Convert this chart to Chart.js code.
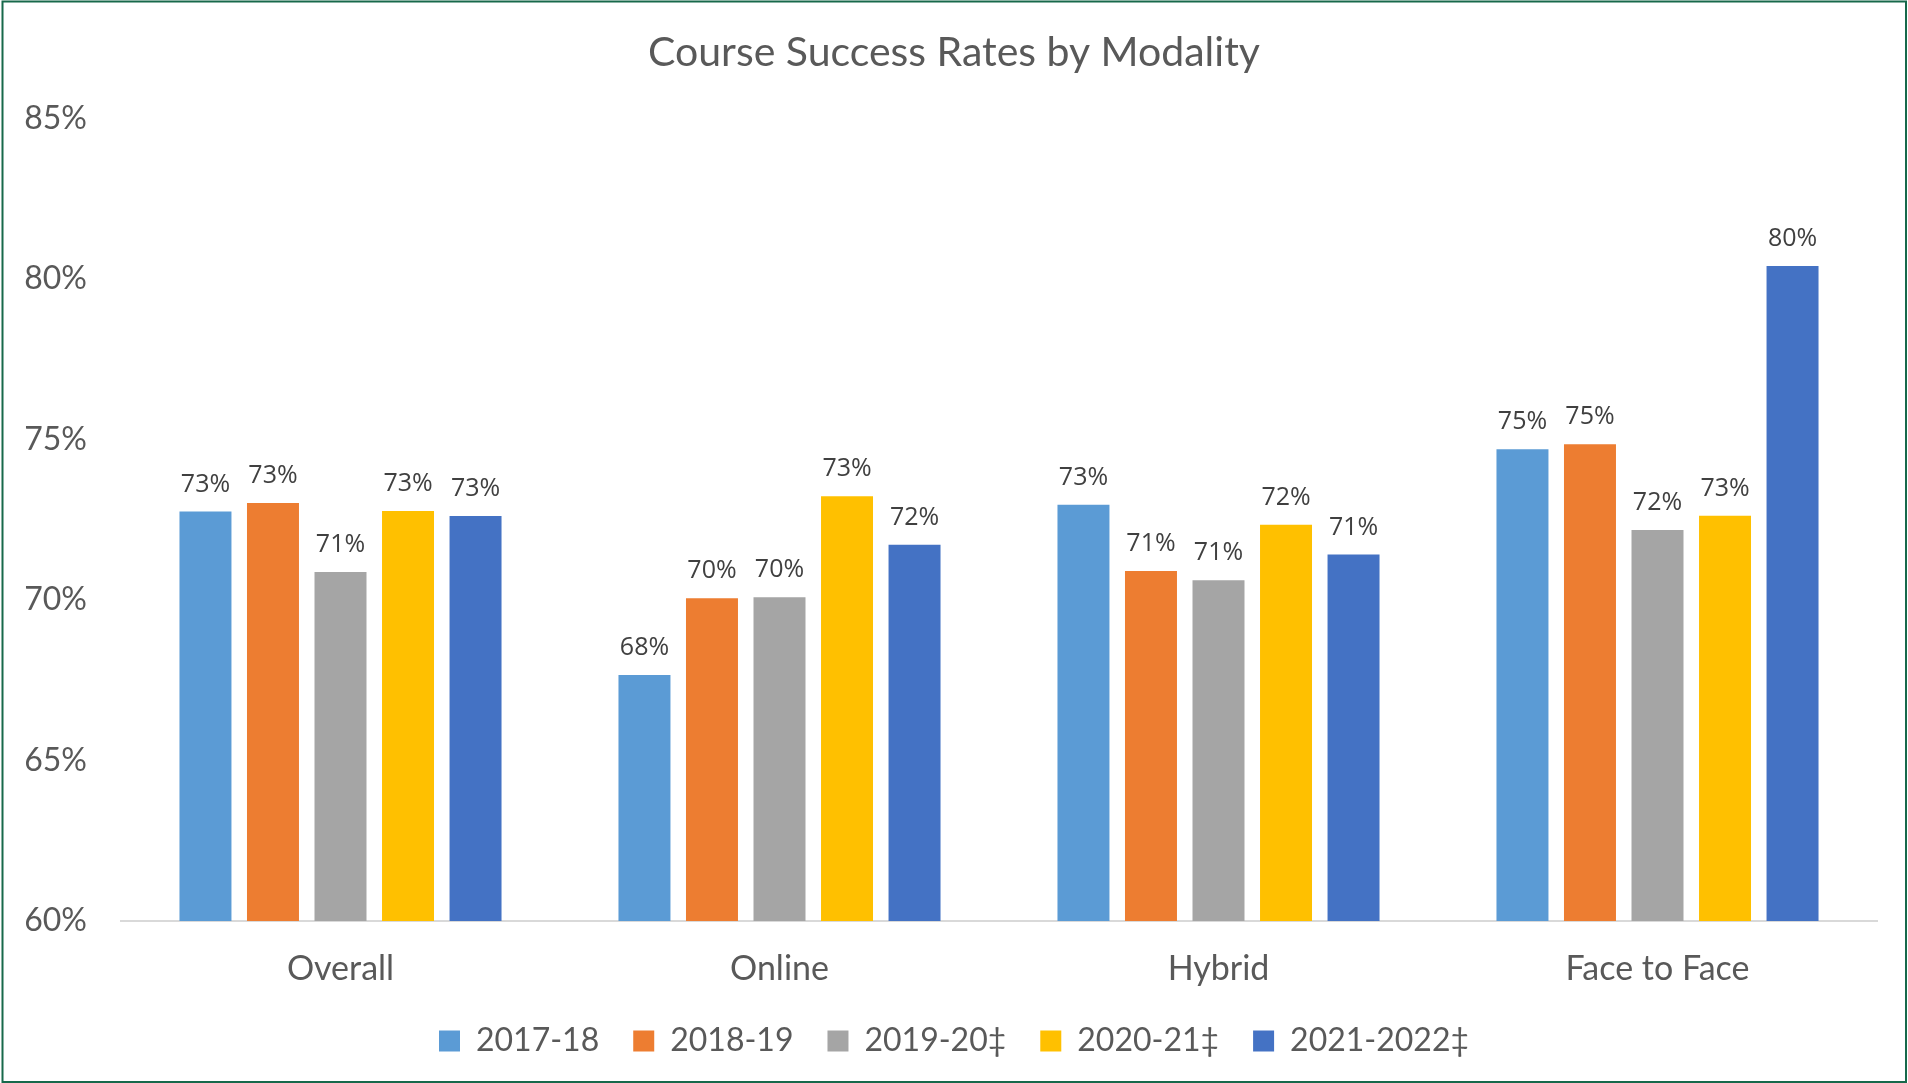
<!DOCTYPE html>
<html>
<head>
<meta charset="utf-8">
<title>Course Success Rates by Modality</title>
<script src="https://cdn.jsdelivr.net/npm/chart.js@4"></script>
<style>
    html, body { margin: 0; padding: 0; background: #ffffff; }
    #wrap { width: 1908px; height: 1083px; position: relative; }
</style>
</head>
<body>
<div id="wrap"><canvas id="successChart" width="1908" height="1083"></canvas></div>
<script>
// Modalities along the x axis
const modalities = ['Overall', 'Online', 'Hybrid', 'Face to Face'];

// Academic years (one bar per year in each group)
const years = ['2017-18', '2018-19', '2019-20\u2021', '2020-21\u2021', '2021-2022\u2021'];

// Success rate (%) per year, in modality order
const rate2017 = [72.75, 67.66, 72.96, 74.69];
const rate2018 = [73.02, 70.05, 70.90, 74.85];
const rate2019 = [70.87, 70.08, 70.61, 72.18];
const rate2020 = [72.77, 73.23, 72.34, 72.62];
const rate2021 = [72.61, 71.72, 71.41, 80.40];

const yearColors = ['#5B9BD5', '#ED7D31', '#A5A5A5', '#FFC000', '#4472C4'];

// Y axis range and tick step
const yMin = 60;
const yMax = 85;
const yStep = 5;

class SuccessRateChart {
    constructor() {
        this.canvas = document.getElementById('successChart');
        this.textColor = '#595959';
        this.init();
    }

    init() {
        this.buildChart();
    }

    datasets() {
        const series = [rate2017, rate2018, rate2019, rate2020, rate2021];
        return series.map((values, i) => ({
            label: years[i],
            data: values,
            backgroundColor: yearColors[i],
            borderWidth: 0,
            categoryPercentage: 0.769,
            barPercentage: 0.77
        }));
    }

    // Rounded value above each bar
    valueLabels() {
        return {
            id: 'valueLabels',
            afterDatasetsDraw(chart) {
                const ctx = chart.ctx;
                ctx.save();
                ctx.font = '25px "Open Sans"';
                ctx.fillStyle = '#404040';
                ctx.textAlign = 'center';
                ctx.textBaseline = 'alphabetic';
                chart.data.datasets.forEach((ds, i) => {
                    const meta = chart.getDatasetMeta(i);
                    meta.data.forEach((bar, j) => {
                        ctx.fillText(Math.round(ds.data[j]) + '%', bar.x, bar.y - 20);
                    });
                });
                ctx.restore();
            }
        };
    }

    // Thin green frame round the whole chart
    frame() {
        return {
            id: 'frame',
            afterDraw(chart) {
                const ctx = chart.ctx;
                ctx.save();
                ctx.strokeStyle = '#17694B';
                ctx.lineWidth = 2;
                ctx.strokeRect(2.5, 1.5, chart.width - 4.5, chart.height - 2.5);
                ctx.restore();
            }
        };
    }

    buildChart() {
        new Chart(this.canvas.getContext('2d'), {
            type: 'bar',
            data: {
                labels: modalities,
                datasets: this.datasets()
            },
            options: {
                responsive: false,
                animation: false,
                layout: {
                    padding: { left: 0, right: 0, top: 0, bottom: 16 }
                },
                plugins: {
                    title: {
                        display: true,
                        text: 'Course Success Rates by Modality',
                        color: this.textColor,
                        font: { family: 'Lato', size: 41, weight: 'normal' },
                        padding: { top: 28, bottom: 41 }
                    },
                    legend: {
                        position: 'bottom',
                        labels: {
                            color: this.textColor,
                            font: { family: 'Lato', size: 32 },
                            boxWidth: 21,
                            boxHeight: 21,
                            padding: 34
                        }
                    },
                    tooltip: { enabled: false }
                },
                scales: {
                    x: {
                        grid: { display: false },
                        border: { color: '#D9D9D9', width: 2 },
                        afterFit(scale) { scale.height = 70; },
                        ticks: {
                            color: this.textColor,
                            font: { family: 'Lato', size: 34 },
                            padding: 20
                        }
                    },
                    y: {
                        min: yMin,
                        max: yMax,
                        grid: { display: false, drawTicks: false },
                        border: { display: false },
                        afterFit(scale) { scale.width = 121; },
                        ticks: {
                            stepSize: yStep,
                            color: this.textColor,
                            font: { family: 'Lato', size: 32 },
                            padding: 34,
                            callback: (v) => v + '%'
                        }
                    },
                    // empty right-hand margin so title and legend stay centred on the canvas
                    yRight: {
                        position: 'right',
                        grid: { display: false, drawTicks: false },
                        border: { display: false },
                        ticks: { display: false },
                        afterFit(scale) { scale.width = 31; }
                    }
                }
            },
            plugins: [this.valueLabels(), this.frame()]
        });
    }
}

document.addEventListener('DOMContentLoaded', () => {
    new SuccessRateChart();
});
</script>
</body>
</html>
